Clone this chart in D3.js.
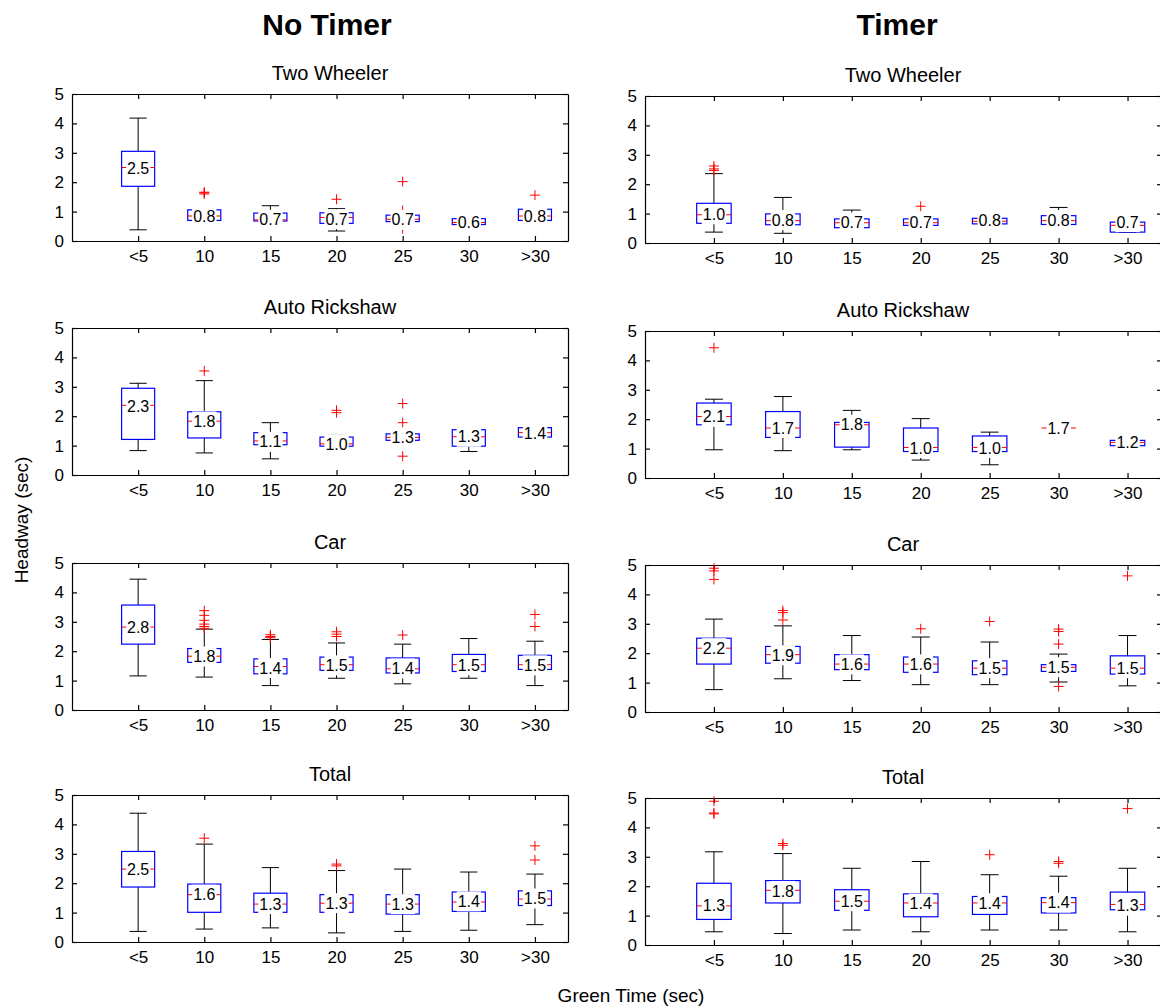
<!DOCTYPE html>
<html>
<head>
<meta charset="utf-8">
<script src="https://cdn.jsdelivr.net/npm/d3@7"></script>
<style>
body { margin: 0; background: #fff; }
text { font-family: Arial, "Liberation Sans", Helvetica, sans-serif; }
</style>
</head>
<body>
<div id="chart"></div>
<script>
// categories / titles
var categories = ["<5", "10", "15", "20", "25", "30", ">30"];
var vehicles = ["Two Wheeler", "Auto Rickshaw", "Car", "Total"];
var conditions = ["No Timer", "Timer"];

// box stats per category: [whisker low, q1, median, q3, whisker high]
// No Timer
var ntTwoStats = [[0.38,1.86,2.50,3.05,4.18],[0.66,0.70,0.85,1.06,1.08],[0.60,0.68,0.72,0.95,1.20],[0.34,0.60,0.80,0.96,1.10],[0.45,0.66,0.74,0.88,1.00],[0.50,0.56,0.63,0.76,0.80],[0.70,0.70,0.85,1.08,1.10]];
var ntTwoOut = [[],[1.60,1.64,1.66],[],[1.42],[2.02,1.04,0.42],[],[1.56]];
var ntTwoLab = [2.48,0.83,0.72,0.74,0.72,0.62,0.84];

var ntAutoStats = [[0.83,1.21,2.37,2.95,3.12],[0.75,1.26,1.83,2.15,3.21],[0.55,1.03,1.16,1.44,1.78],[0.95,0.98,1.06,1.29,1.35],[1.10,1.18,1.28,1.40,1.50],[0.80,0.98,1.30,1.54,1.60],[1.25,1.29,1.44,1.61,1.65]];
var ntAutoOut = [[],[3.54],[],[2.20,2.12],[2.43,1.78,0.64],[],[]];
var ntAutoLab = [2.34,1.82,1.13,1.04,1.28,1.30,1.42];

var ntCarStats = [[1.16,2.24,2.82,3.57,4.45],[1.12,1.62,1.83,2.09,2.75],[0.83,1.23,1.48,1.74,2.40],[1.08,1.35,1.54,1.80,2.28],[0.89,1.26,1.40,1.77,2.24],[1.08,1.31,1.54,1.89,2.43],[0.83,1.38,1.54,1.86,2.34]];
var ntCarOut = [[],[3.38,3.22,3.05,2.92,2.84,2.78],[2.56,2.50,2.46],[2.66,2.58,2.50],[2.55],[],[3.25,2.84]];
var ntCarLab = [2.81,1.82,1.43,1.52,1.41,1.52,1.52];

var ntTotStats = [[0.36,1.87,2.48,3.08,4.38],[0.44,1.01,1.61,1.97,3.33],[0.48,1.01,1.29,1.66,2.53],[0.31,1.01,1.32,1.61,2.43],[0.36,0.95,1.29,1.61,2.48],[0.40,1.04,1.36,1.70,2.38],[0.59,1.24,1.46,1.74,2.31]];
var ntTotOut = [[],[3.53],[],[2.65,2.59],[],[],[3.27,2.79]];
var ntTotLab = [2.48,1.61,1.29,1.32,1.29,1.38,1.48];

// Timer
var tTwoStats = [[0.37,0.67,0.96,1.35,2.36],[0.33,0.62,0.76,0.99,1.55],[0.50,0.52,0.69,0.82,1.12],[0.55,0.60,0.69,0.82,0.90],[0.60,0.65,0.74,0.84,0.90],[0.55,0.63,0.76,0.93,1.21],[0.36,0.37,0.60,0.71,0.72]];
var tTwoOut = [[2.62,2.52,2.47],[],[],[1.25],[],[],[]];
var tTwoLab = [0.98,0.78,0.70,0.70,0.78,0.78,0.71];

var tAutoStats = [[0.96,1.81,2.09,2.55,2.68],[0.93,1.38,1.70,2.26,2.77],[0.96,1.05,1.81,1.89,2.30],[0.61,0.90,1.04,1.70,2.02],[0.45,0.90,1.04,1.43,1.56],[1.70,1.70,1.70,1.70,1.70],[1.10,1.10,1.21,1.28,1.28]];
var tAutoOut = [[4.43],[],[],[],[],[],[]];
var tAutoLab = [2.08,1.70,1.81,1.02,1.02,1.70,1.21];

var tCarStats = [[0.76,1.63,2.17,2.51,3.16],[1.13,1.66,1.95,2.23,2.93],[1.07,1.44,1.63,1.95,2.60],[0.93,1.35,1.63,1.87,2.55],[0.93,1.27,1.49,1.74,2.38],[1.02,1.38,1.52,1.61,1.97],[0.89,1.29,1.49,1.91,2.60]];
var tCarOut = [[4.89,4.80,4.51],[3.45,3.38,3.13],[],[2.83],[3.08],[2.82,2.74,2.31,0.87],[4.63]];
var tCarLab = [2.17,1.93,1.62,1.62,1.49,1.52,1.49];

var tTotStats = [[0.45,0.87,1.33,2.10,3.17],[0.39,1.43,1.86,2.19,3.11],[0.51,1.18,1.49,1.88,2.61],[0.45,0.96,1.43,1.74,2.84],[0.51,1.04,1.43,1.65,2.39],[0.51,1.09,1.44,1.61,2.34],[0.45,1.20,1.38,1.80,2.61]];
var tTotOut = [[4.89,4.49,4.46],[3.45,3.39],[],[],[3.07],[2.84,2.78],[4.64]];
var tTotLab = [1.33,1.84,1.49,1.41,1.42,1.44,1.34];

var yTicks = [0, 1, 2, 3, 4, 5];

// layout
var svgWidth = 1160;
var svgHeight = 1008;
var colLeft = [72, 645];
var colWidth = [496, 517];
var colTitleX = [330, 903];
var rowTop = [[94, 328, 563, 795], [96, 331, 565, 798]];
var panelHeight = 147;
var font = "Arial, 'Liberation Sans', Helvetica, sans-serif";

var svg = d3.select("#chart")
  .append("svg")
  .attr("width", svgWidth)
  .attr("height", svgHeight);

var fmt = d3.format(".1f");

function drawPanel(col, row, stats, outliers, labels) {
  var x = d3.scaleLinear().domain([0, 7.5]).range([0, colWidth[col]]);
  var y = d3.scaleLinear().domain([0, 5]).range([panelHeight, 0]);
  var pos = categories.map(function(d, i) { return i + 1; });

  var g = svg.append("g")
    .attr("transform", `translate(${colLeft[col]}, ${rowTop[col][row]})`);

  // axes, ticks pointing inward
  var bottom = g.append("g")
    .attr("transform", `translate(0, ${panelHeight})`)
    .call(d3.axisBottom(x).tickValues(pos).tickFormat(function(d) { return categories[d - 1]; })
      .tickSizeInner(-5).tickSizeOuter(0).tickPadding(9));
  var top = g.append("g")
    .call(d3.axisTop(x).tickValues(pos).tickFormat("").tickSizeInner(-5).tickSizeOuter(0));
  var left = g.append("g")
    .call(d3.axisLeft(y).tickValues(yTicks).tickFormat(d3.format("d"))
      .tickSizeInner(-5).tickSizeOuter(0).tickPadding(8));
  var right = g.append("g")
    .attr("transform", `translate(${colWidth[col]}, 0)`)
    .call(d3.axisRight(y).tickValues(yTicks).tickFormat("").tickSizeInner(-5).tickSizeOuter(0));

  [bottom, top, left, right].forEach(function(a) {
    a.attr("font-family", font).attr("font-size", 17);
    a.selectAll("path,line").attr("stroke", "#000").attr("stroke-width", 1.2);
    a.selectAll("text").attr("fill", "#000");
  });

  // subplot title
  svg.append("text")
    .attr("x", colTitleX[col])
    .attr("y", rowTop[col][row] - 14)
    .attr("text-anchor", "middle")
    .attr("font-size", 20)
    .text(vehicles[row]);

  var boxes = g.selectAll(".bx")
    .data(stats)
    .enter()
    .append("g");

  // whiskers
  boxes.append("line")
    .attr("x1", (d, i) => x(pos[i])).attr("x2", (d, i) => x(pos[i]))
    .attr("y1", d => y(d[3])).attr("y2", d => y(d[4]))
    .attr("stroke", "#000");
  boxes.append("line")
    .attr("x1", (d, i) => x(pos[i])).attr("x2", (d, i) => x(pos[i]))
    .attr("y1", d => y(d[0])).attr("y2", d => y(d[1]))
    .attr("stroke", "#000");
  [0, 4].forEach(function(k) {
    boxes.append("line")
      .attr("x1", (d, i) => x(pos[i] - 0.13)).attr("x2", (d, i) => x(pos[i] + 0.13))
      .attr("y1", d => y(d[k])).attr("y2", d => y(d[k]))
      .attr("stroke", "#000");
  });

  // box
  boxes.append("rect")
    .attr("x", (d, i) => x(pos[i] - 0.25))
    .attr("width", x(0.5) - x(0))
    .attr("y", d => y(d[3]))
    .attr("height", d => y(d[1]) - y(d[3]))
    .attr("fill", "none")
    .attr("stroke", "#0000ff")
    .attr("stroke-width", 1.2);

  // median
  boxes.append("line")
    .attr("x1", (d, i) => x(pos[i] - 0.25)).attr("x2", (d, i) => x(pos[i] + 0.25))
    .attr("y1", d => y(d[2])).attr("y2", d => y(d[2]))
    .attr("stroke", "#ff0000");

  // outliers
  outliers.forEach(function(list, i) {
    list.forEach(function(v) {
      var cx = x(pos[i]), cy = y(v);
      g.append("path")
        .attr("d", `M${cx - 5},${cy}H${cx + 5}M${cx},${cy - 5}V${cy + 5}`)
        .attr("stroke", "#ff0000")
        .attr("fill", "none");
    });
  });

  // value labels with white background
  labels.forEach(function(v, i) {
    var lg = g.append("g");
    var t = lg.append("text")
      .attr("x", x(pos[i]))
      .attr("y", y(v))
      .attr("dy", "0.35em")
      .attr("text-anchor", "middle")
      .attr("font-size", 16)
      .attr("fill", "#000")
      .text(fmt(v));
    var bb = t.node().getBBox();
    lg.insert("rect", "text")
      .attr("x", bb.x - 1)
      .attr("y", y(v) - 10)
      .attr("width", bb.width + 2)
      .attr("height", 20)
      .attr("fill", "#fff");
  });
}

var panels = [
  [ntTwoStats, ntTwoOut, ntTwoLab], [ntAutoStats, ntAutoOut, ntAutoLab],
  [ntCarStats, ntCarOut, ntCarLab], [ntTotStats, ntTotOut, ntTotLab],
  [tTwoStats, tTwoOut, tTwoLab], [tAutoStats, tAutoOut, tAutoLab],
  [tCarStats, tCarOut, tCarLab], [tTotStats, tTotOut, tTotLab]
];

panels.forEach(function(p, k) {
  drawPanel(Math.floor(k / 4), k % 4, p[0], p[1], p[2]);
});

// column titles
conditions.forEach(function(c, i) {
  svg.append("text")
    .attr("x", [327, 897][i])
    .attr("y", 35)
    .attr("text-anchor", "middle")
    .attr("font-size", 30)
    .attr("font-weight", "bold")
    .text(c);
});

// axis titles
svg.append("text")
  .attr("transform", "translate(28, 520) rotate(-90)")
  .attr("text-anchor", "middle")
  .attr("font-size", 19)
  .text("Headway (sec)");

svg.append("text")
  .attr("x", 631)
  .attr("y", 1002)
  .attr("text-anchor", "middle")
  .attr("font-size", 19)
  .text("Green Time (sec)");
</script>
</body>
</html>
